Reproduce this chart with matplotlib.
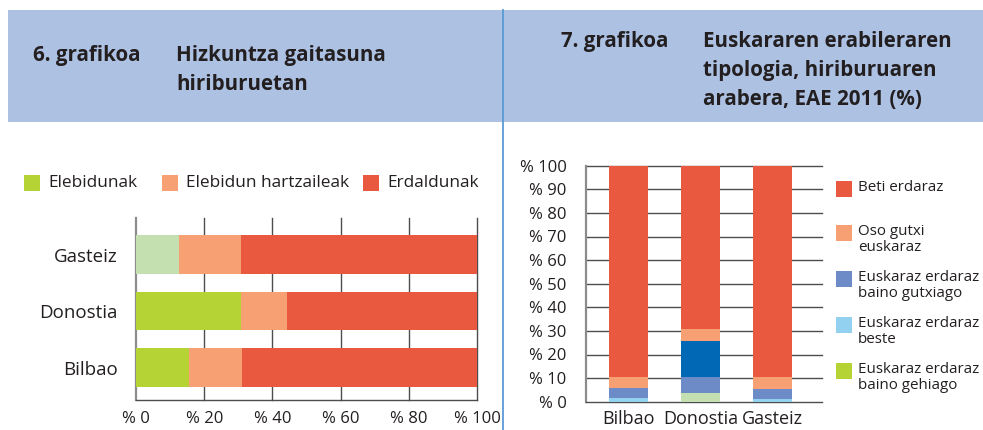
import matplotlib
matplotlib.use("Agg")
import matplotlib.pyplot as plt
from matplotlib.patches import Rectangle
import numpy as np

plt.rcParams['font.family'] = ['Open Sans', 'DejaVu Sans']

W, H = 983, 430
TXT = '#231f20'
GRID = '#4d4d4d'
SPINE = '#8c8c8c'
RED = '#e8593f'
ORANGE = '#f7a074'
GREEN = '#b5d334'
PALEGREEN = '#c5e0b0'
BLUE = '#6d8bc7'
LIGHTBLUE = '#93d1f0'
DARKBLUE = '#0068b4'

# ---------- data: chart 6 ----------
cities6 = ['Bilbao', 'Donostia', 'Gasteiz']
elebidunak = [15.5, 30.7, 12.6]
hartzaileak = [15.6, 13.5, 18.1]
erdaldunak = [68.9, 55.8, 69.3]
legend6 = ['Elebidunak', 'Elebidun hartzaileak', 'Erdaldunak']
xticks6 = [0, 20, 40, 60, 80, 100]
xticklabels6 = ['% 0', '% 20', '% 40', '% 60', '% 80', '% 100']

# ---------- data: chart 7 ----------
cities7 = ['Bilbao', 'Donostia', 'Gasteiz']
gehiago = [0.0, 3.7, 0.0]
beste = [1.6, 6.8, 1.1]
gutxiago = [4.2, 15.3, 4.3]
oso_gutxi = [4.7, 5.0, 5.1]
beti = [89.5, 69.2, 89.5]
legend7 = ['Beti erdaraz', 'Oso gutxi\neuskaraz', 'Euskaraz erdaraz\nbaino gutxiago',
           'Euskaraz erdaraz\nbeste', 'Euskaraz erdaraz\nbaino gehiago']
yticks7 = list(range(0, 101, 10))
yticklabels7 = ['% ' + str(v) for v in yticks7]


def fx(x):
    return x / W


def fy(y):
    return 1 - y / H


def axrect(l, t, r, b):
    return [fx(l), fy(b), (r - l) / W, (b - t) / H]


fig = plt.figure(figsize=(W / 100, H / 100), dpi=100)
fig.patch.set_facecolor('white')

# header band
fig.patches.append(Rectangle((fx(8), fy(122)), (W - 8) / W, (122 - 10) / H,
                             transform=fig.transFigure, facecolor='#adc1e3',
                             edgecolor='none', zorder=0))
# vertical divider
fig.lines.append(plt.Line2D([fx(503), fx(503)], [fy(10), fy(430)],
                            transform=fig.transFigure, color='#5b9bd5', lw=1.3))

# titles
tkw = dict(fontsize=14.8, fontweight='bold', color=TXT, va='baseline', ha='left')
fig.text(fx(33), fy(61), '6. grafikoa', **tkw)
fig.text(fx(176), fy(61), 'Hizkuntza gaitasuna', **tkw)
fig.text(fx(176), fy(90), 'hiriburuetan', **tkw)
fig.text(fx(561), fy(47), '7. grafikoa', **tkw)
fig.text(fx(703), fy(47), 'Euskararen erabileraren', **tkw)
fig.text(fx(703), fy(76), 'tipologia, hiriburuaren', **tkw)
fig.text(fx(703), fy(105), 'arabera, EAE 2011 (%)', **tkw)

# ---------- chart 6 ----------
ax1 = fig.add_axes(axrect(136, 218, 477, 400))
y = np.arange(len(cities6))
green_cols = [GREEN, GREEN, PALEGREEN]
e = np.array(elebidunak)
h = np.array(hartzaileak)
d = np.array(erdaldunak)
ax1.barh(y, e, height=0.69, color=green_cols, zorder=3)
ax1.barh(y, h, left=e, height=0.69, color=ORANGE, zorder=3)
ax1.barh(y, d, left=e + h, height=0.69, color=RED, zorder=3)
ax1.set_xlim(0, 100)
ax1.set_ylim(-0.575, 2.646)
ax1.set_xticks(xticks6)
ax1.set_xticklabels(xticklabels6, fontsize=12, color=TXT)
ax1.set_yticks(y)
ax1.set_yticklabels(cities6, fontsize=13.5, color=TXT)
ax1.tick_params(axis='x', length=0, pad=8)
ax1.tick_params(axis='y', length=0, pad=13)
for xv in xticks6[1:]:
    ax1.axvline(xv, color=GRID, lw=1.0, zorder=1, clip_on=False)
for s in ['top', 'right']:
    ax1.spines[s].set_visible(False)
ax1.spines['left'].set_color(SPINE)
ax1.spines['left'].set_linewidth(1.6)
ax1.spines['bottom'].set_color(GRID)
ax1.spines['bottom'].set_linewidth(1.0)
ax1.set_facecolor('none')

# legend 6
leg6_cols = [GREEN, ORANGE, RED]
leg6_sq = [24, 162, 363]
for lab, col, sx in zip(legend6, leg6_cols, leg6_sq):
    fig.patches.append(Rectangle((fx(sx), fy(191)), 16 / W, 16 / H,
                                 transform=fig.transFigure, facecolor=col,
                                 edgecolor='none'))
    fig.text(fx(sx + 24), fy(183), lab, fontsize=12.4, color=TXT, va='center', ha='left')

# ---------- chart 7 ----------
ax2 = fig.add_axes(axrect(586, 165.7, 822, 401.7))
x = np.arange(len(cities7))
bw = 0.54
g = np.array(gehiago)
b = np.array(beste)
gu = np.array(gutxiago)
o = np.array(oso_gutxi)
bt = np.array(beti)
ax2.bar(x, g, width=bw, color=PALEGREEN, zorder=3)
ax2.bar(x, b, bottom=g, width=bw, color=[LIGHTBLUE, BLUE, LIGHTBLUE], zorder=3)
ax2.bar(x, gu, bottom=g + b, width=bw, color=[BLUE, DARKBLUE, BLUE], zorder=3)
ax2.bar(x, o, bottom=g + b + gu, width=bw, color=ORANGE, zorder=3)
ax2.bar(x, bt, bottom=g + b + gu + o, width=bw, color=RED, zorder=3)
ax2.set_xlim(-0.59, 2.69)
ax2.set_ylim(0, 100)
ax2.set_yticks(yticks7)
ax2.set_yticklabels(yticklabels7, fontsize=12, color=TXT)
ax2.set_xticks(x)
ax2.set_xticklabels(cities7, fontsize=13, color=TXT)
ax2.tick_params(axis='y', length=0, pad=14)
ax2.tick_params(axis='x', length=0, pad=6)
for yv in yticks7[1:]:
    ax2.axhline(yv, color=GRID, lw=1.0, zorder=1, clip_on=False)
for s in ['top', 'right']:
    ax2.spines[s].set_visible(False)
ax2.spines['left'].set_color(SPINE)
ax2.spines['left'].set_linewidth(1.6)
ax2.spines['bottom'].set_color(GRID)
ax2.spines['bottom'].set_linewidth(1.0)
ax2.set_facecolor('none')

# legend 7
leg7_cols = [RED, ORANGE, BLUE, LIGHTBLUE, GREEN]
leg7_y = [189, 233, 279, 325, 371]
for lab, col, cy in zip(legend7, leg7_cols, leg7_y):
    fig.patches.append(Rectangle((fx(836), fy(cy + 8)), 16 / W, 16 / H,
                                 transform=fig.transFigure, facecolor=col,
                                 edgecolor='none'))
    fig.text(fx(858), fy(cy - 9), lab, fontsize=10.9, color=TXT, va='top', ha='left',
             linespacing=1.1)

fig.savefig('out.png', dpi=100)
